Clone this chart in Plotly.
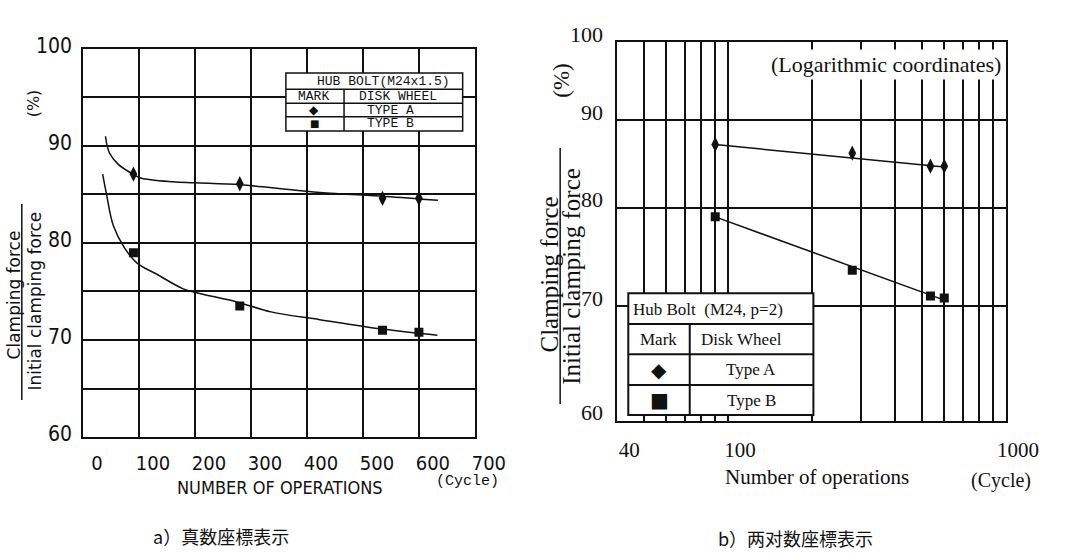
import math
import plotly.graph_objects as go

W, H = 1069, 556

# ---------------- data ----------------
cycles = [90, 280, 535, 600]
type_a = [87.1, 86.1, 84.6, 84.6]
type_b = [79.0, 73.5, 71.0, 70.8]

# hand-drawn fitted curves on the linear chart
curve_a_x = [40, 47, 63, 89, 103, 160, 200, 280, 337, 423, 540, 634]
curve_a_y = [91.0, 89.3, 88.1, 87.1, 86.7, 86.3, 86.2, 86.0, 85.7, 85.2, 84.8, 84.4]
curve_b_x = [35, 42, 54, 74, 97, 131, 178, 201, 276, 336, 423, 538, 633]
curve_b_y = [87.1, 85.0, 81.8, 79.5, 77.9, 76.8, 75.3, 74.9, 73.9, 72.9, 72.1, 71.1, 70.5]

# straight fitted lines on the log-log chart
fit_x = [90, 600]
fit_a_y = [87.1, 84.5]
fit_b_y = [79.0, 70.6]

# ticks
lin_x_ticks = [0, 100, 200, 300, 400, 500, 600, 700]
lin_y_ticks = [60, 70, 80, 90, 100]
log_x_ticks = [40, 50, 60, 70, 80, 90, 100, 200, 300, 400, 500, 600, 700, 800, 900, 1000]
log_x_text = ["40", "", "", "", "", "", "100", "", "", "", "", "", "", "", "", "1000"]
log_y_ticks = [60, 70, 80, 90, 100]

# ---------------- styling helpers ----------------
NARROW = "Liberation Sans Narrow, Arial Narrow, DejaVu Sans Condensed, Liberation Sans, sans-serif"
SERIF = "Liberation Serif, Times New Roman, serif"
MONO = "Liberation Mono, DejaVu Sans Mono, monospace"
SANS = "DejaVu Sans, sans-serif"
CJK = "Noto Sans CJK JP, Noto Sans CJK SC, sans-serif"
INK = "#111111"


def px(x):
    return x / W


def py(y):
    return 1 - y / H


fig = go.Figure()

# ---- left (linear) chart ----
fig.add_trace(go.Scatter(x=curve_a_x, y=curve_a_y, mode="lines", line=dict(color=INK, width=1.5, shape="spline"),
                         xaxis="x", yaxis="y", showlegend=False, hoverinfo="skip"))
fig.add_trace(go.Scatter(x=curve_b_x, y=curve_b_y, mode="lines", line=dict(color=INK, width=1.5, shape="spline"),
                         xaxis="x", yaxis="y", showlegend=False, hoverinfo="skip"))
fig.add_trace(go.Scatter(x=cycles, y=type_a, mode="markers", marker=dict(symbol="diamond-tall", size=11, color=INK),
                         xaxis="x", yaxis="y", name="Type A", showlegend=False))
fig.add_trace(go.Scatter(x=cycles, y=type_b, mode="markers", marker=dict(symbol="square", size=9, color=INK),
                         xaxis="x", yaxis="y", name="Type B", showlegend=False))

# ---- right (log-log) chart ----
fig.add_trace(go.Scatter(x=fit_x, y=fit_a_y, mode="lines", line=dict(color=INK, width=1.5),
                         xaxis="x2", yaxis="y2", showlegend=False, hoverinfo="skip"))
fig.add_trace(go.Scatter(x=fit_x, y=fit_b_y, mode="lines", line=dict(color=INK, width=1.5),
                         xaxis="x2", yaxis="y2", showlegend=False, hoverinfo="skip"))
fig.add_trace(go.Scatter(x=cycles, y=type_a, mode="markers", marker=dict(symbol="diamond-tall", size=11, color=INK),
                         xaxis="x2", yaxis="y2", name="Type A", showlegend=False))
fig.add_trace(go.Scatter(x=cycles, y=type_b, mode="markers", marker=dict(symbol="square", size=9, color=INK),
                         xaxis="x2", yaxis="y2", name="Type B", showlegend=False))

grid = dict(showgrid=True, gridcolor=INK, gridwidth=1.8, showline=True, linecolor=INK, linewidth=1.8,
            mirror=True, zeroline=False, ticks="")

fig.update_layout(
    width=W, height=H, margin=dict(l=0, r=0, t=0, b=0),
    paper_bgcolor="white", plot_bgcolor="white", showlegend=False,
    xaxis=dict(domain=[px(85.7), px(490)], range=[0, 700], tickvals=lin_x_ticks,
               tickfont=dict(family=NARROW, size=20, color=INK), ticklabelshift=14, ticklabelstandoff=7, **grid),
    yaxis=dict(domain=[py(440), py(30.5)], range=[60, 100], tickvals=lin_y_ticks,
               minor=dict(dtick=5, showgrid=True, gridcolor=INK, gridwidth=1.8, ticks=""),
               tickfont=dict(family=NARROW, size=21, color=INK), ticklabelshift=-3, ticklabelstandoff=5, **grid),
    xaxis2=dict(domain=[px(637), px(1038)], type="log", range=[math.log10(40), 3], tickvals=log_x_ticks,
                ticktext=log_x_text, tickfont=dict(family=SERIF, size=21, color=INK), ticklabelshift=12,
                ticklabelstandoff=9, anchor="y2", **grid),
    yaxis2=dict(domain=[py(422.7), py(23.5)], type="log", range=[math.log10(60), 2], tickvals=log_y_ticks,
                tickfont=dict(family=SERIF, size=22, color=INK), ticklabelshift=-8, ticklabelstandoff=8,
                anchor="x2", **grid),
)

shapes = []
ann = []


def line(x0, y0, x1, y1, w=1.5):
    shapes.append(dict(type="line", xref="paper", yref="paper", x0=px(x0), y0=py(y0), x1=px(x1), y1=py(y1),
                       line=dict(color=INK, width=w), layer="above"))


def rect(x0, y0, x1, y1, w=1.5):
    shapes.append(dict(type="rect", xref="paper", yref="paper", x0=px(x0), y0=py(y0), x1=px(x1), y1=py(y1),
                       line=dict(color=INK, width=w), fillcolor="white", layer="above"))


def text(s, x, y, family, size, angle=0, xanchor="center", bg=None):
    d = dict(text=s, x=px(x), y=py(y), xref="paper", yref="paper", showarrow=False, textangle=angle,
             xanchor=xanchor, yanchor="middle", font=dict(family=family, size=size, color=INK))
    if bg:
        d.update(bgcolor=bg, borderpad=2)
    ann.append(d)


# ---- left legend table ----
rect(295, 56, 477.4, 117)
line(295, 73, 477.4, 73)
line(295, 87.7, 477.4, 87.7)
line(295, 102, 477.4, 102)
line(355, 73, 355, 117)
text("HUB BOLT(M24x1.5)", 396, 64.5, MONO, 13)
text("MARK", 323, 80.5, MONO, 13)
text("DISK WHEEL", 411, 80.5, MONO, 13)
text("◆", 324.5, 95, SANS, 12)
text("TYPE A", 403, 95, MONO, 13)
text("■", 324.5, 109.5, SANS, 10)
text("TYPE B", 403, 109.5, MONO, 13)

# ---- right legend table ----
rect(648.3, 288.3, 839.3, 416.7, 2)
line(648.3, 320.7, 839.3, 320.7, 2)
line(648.3, 352.7, 839.3, 352.7, 2)
line(648.3, 385, 839.3, 385, 2)
line(711.7, 320.7, 711.7, 416.7, 2)
text("Hub Bolt  (M24, p=2)", 651, 305, SERIF, 17, xanchor="left")
text("Mark", 679, 337, SERIF, 17)
text("Disk Wheel", 765, 337, SERIF, 17)
text("◆", 680, 369, SANS, 20)
text("Type A", 775, 369, SERIF, 17)
text("■", 680, 401, SANS, 20)
text("Type B", 775, 401, SERIF, 17)

# ---- left axis titles ----
text("Clamping force", 14, 290, SANS, 17, angle=-90)
line(22.5, 194, 22.5, 401, 1.5)
text("Initial clamping force", 36, 296, SANS, 17, angle=-90)
text("(%)", 34, 88, SANS, 16, angle=-90)
text("NUMBER OF OPERATIONS", 289, 493, NARROW, 18)
text("(Cycle)", 482.5, 487, MONO, 15)
text("a）真数座標表示", 228, 544, CJK, 18)

# ---- right axis titles ----
text("Clamping force", 567, 268, SERIF, 25, angle=-90)
line(578, 135, 578, 405, 1.5)
text("Initial clamping force", 590, 270, SERIF, 25, angle=-90)
text("(%)", 580, 64, SERIF, 23, angle=-90)
text("(Logarithmic coordinates)", 914.5, 47, SERIF, 22, bg="white")
text("Number of operations", 843, 482, SERIF, 21)
text("(Cycle)", 1033, 486, SERIF, 20)
text("b）两对数座標表示", 821, 546, CJK, 18)

fig.update_layout(shapes=shapes, annotations=ann)
fig.write_html("out.html", config={"displayModeBar": False},
               post_script="document.body.style.margin='0';document.documentElement.style.overflow='hidden';")
